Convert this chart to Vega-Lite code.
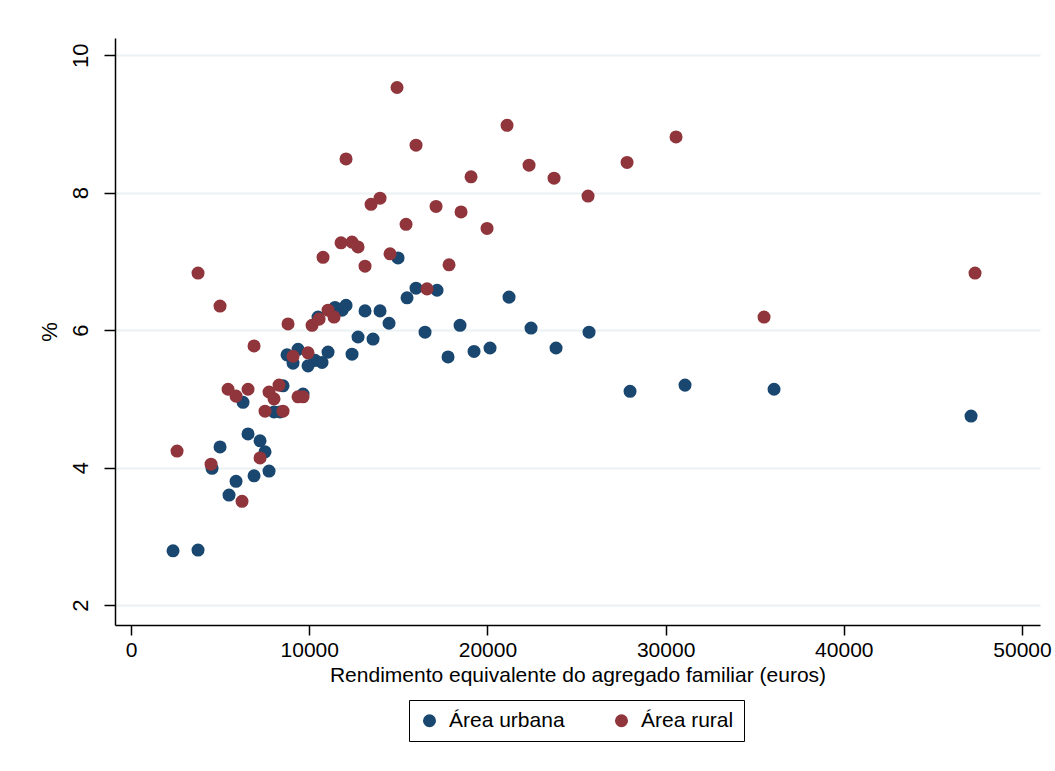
{
  "$schema": "https://vega.github.io/schema/vega-lite/v6.json",
  "width": 925,
  "height": 587,
  "autosize": "none",
  "padding": {"left": 115, "top": 38, "right": 15, "bottom": 146},
  "background": "white",
  "config": {
    "view": {"stroke": null},
    "font": "Liberation Sans"
  },
  "data": {
    "values": [
      {"g": "Área urbana", "x": 2357, "y": 2.79},
      {"g": "Área urbana", "x": 3760, "y": 2.80},
      {"g": "Área urbana", "x": 4546, "y": 3.99},
      {"g": "Área urbana", "x": 4995, "y": 4.30},
      {"g": "Área urbana", "x": 5500, "y": 3.60},
      {"g": "Área urbana", "x": 5893, "y": 3.80},
      {"g": "Área urbana", "x": 6285, "y": 4.95},
      {"g": "Área urbana", "x": 6566, "y": 4.49},
      {"g": "Área urbana", "x": 6903, "y": 3.88},
      {"g": "Área urbana", "x": 7240, "y": 4.39},
      {"g": "Área urbana", "x": 7520, "y": 4.23},
      {"g": "Área urbana", "x": 7745, "y": 3.95},
      {"g": "Área urbana", "x": 8025, "y": 4.81},
      {"g": "Área urbana", "x": 8362, "y": 4.81},
      {"g": "Área urbana", "x": 8530, "y": 5.19},
      {"g": "Área urbana", "x": 8755, "y": 5.64},
      {"g": "Área urbana", "x": 9091, "y": 5.52},
      {"g": "Área urbana", "x": 9372, "y": 5.72},
      {"g": "Área urbana", "x": 9653, "y": 5.07},
      {"g": "Área urbana", "x": 9933, "y": 5.48},
      {"g": "Área urbana", "x": 10326, "y": 5.56},
      {"g": "Área urbana", "x": 10494, "y": 6.19},
      {"g": "Área urbana", "x": 10719, "y": 5.53},
      {"g": "Área urbana", "x": 11056, "y": 5.68},
      {"g": "Área urbana", "x": 11449, "y": 6.33},
      {"g": "Área urbana", "x": 11841, "y": 6.29},
      {"g": "Área urbana", "x": 12066, "y": 6.36},
      {"g": "Área urbana", "x": 12402, "y": 5.65},
      {"g": "Área urbana", "x": 12739, "y": 5.90},
      {"g": "Área urbana", "x": 13132, "y": 6.28},
      {"g": "Área urbana", "x": 13581, "y": 5.87},
      {"g": "Área urbana", "x": 13974, "y": 6.28},
      {"g": "Área urbana", "x": 14479, "y": 6.10},
      {"g": "Área urbana", "x": 14984, "y": 7.05},
      {"g": "Área urbana", "x": 15489, "y": 6.47},
      {"g": "Área urbana", "x": 15994, "y": 6.61},
      {"g": "Área urbana", "x": 16499, "y": 5.97},
      {"g": "Área urbana", "x": 17173, "y": 6.58},
      {"g": "Área urbana", "x": 17790, "y": 5.61},
      {"g": "Área urbana", "x": 18463, "y": 6.07},
      {"g": "Área urbana", "x": 19249, "y": 5.69},
      {"g": "Área urbana", "x": 20147, "y": 5.74},
      {"g": "Área urbana", "x": 21213, "y": 6.48},
      {"g": "Área urbana", "x": 22448, "y": 6.03},
      {"g": "Área urbana", "x": 23851, "y": 5.74},
      {"g": "Área urbana", "x": 25703, "y": 5.97},
      {"g": "Área urbana", "x": 28004, "y": 5.11},
      {"g": "Área urbana", "x": 31090, "y": 5.20},
      {"g": "Área urbana", "x": 36085, "y": 5.14},
      {"g": "Área urbana", "x": 47141, "y": 4.75},
      {"g": "Área rural", "x": 2582, "y": 4.24},
      {"g": "Área rural", "x": 3760, "y": 6.83},
      {"g": "Área rural", "x": 4490, "y": 4.05},
      {"g": "Área rural", "x": 4995, "y": 6.35},
      {"g": "Área rural", "x": 5444, "y": 5.14},
      {"g": "Área rural", "x": 5893, "y": 5.04},
      {"g": "Área rural", "x": 6229, "y": 3.51},
      {"g": "Área rural", "x": 6566, "y": 5.14},
      {"g": "Área rural", "x": 6903, "y": 5.77},
      {"g": "Área rural", "x": 7240, "y": 4.14},
      {"g": "Área rural", "x": 7520, "y": 4.82},
      {"g": "Área rural", "x": 7745, "y": 5.10},
      {"g": "Área rural", "x": 8025, "y": 5.00},
      {"g": "Área rural", "x": 8306, "y": 5.20},
      {"g": "Área rural", "x": 8530, "y": 4.82},
      {"g": "Área rural", "x": 8811, "y": 6.09},
      {"g": "Área rural", "x": 9091, "y": 5.62},
      {"g": "Área rural", "x": 9372, "y": 5.03},
      {"g": "Área rural", "x": 9653, "y": 5.03},
      {"g": "Área rural", "x": 9933, "y": 5.67},
      {"g": "Área rural", "x": 10158, "y": 6.07},
      {"g": "Área rural", "x": 10551, "y": 6.16},
      {"g": "Área rural", "x": 10775, "y": 7.06},
      {"g": "Área rural", "x": 11056, "y": 6.29},
      {"g": "Área rural", "x": 11392, "y": 6.19},
      {"g": "Área rural", "x": 11785, "y": 7.27},
      {"g": "Área rural", "x": 12066, "y": 8.49},
      {"g": "Área rural", "x": 12402, "y": 7.28},
      {"g": "Área rural", "x": 12739, "y": 7.21},
      {"g": "Área rural", "x": 13132, "y": 6.93},
      {"g": "Área rural", "x": 13469, "y": 7.83},
      {"g": "Área rural", "x": 13974, "y": 7.92},
      {"g": "Área rural", "x": 14535, "y": 7.11},
      {"g": "Área rural", "x": 14928, "y": 9.53},
      {"g": "Área rural", "x": 15433, "y": 7.54},
      {"g": "Área rural", "x": 15994, "y": 8.69},
      {"g": "Área rural", "x": 16611, "y": 6.60},
      {"g": "Área rural", "x": 17117, "y": 7.80},
      {"g": "Área rural", "x": 17846, "y": 6.95},
      {"g": "Área rural", "x": 18520, "y": 7.72},
      {"g": "Área rural", "x": 19081, "y": 8.23},
      {"g": "Área rural", "x": 19979, "y": 7.48},
      {"g": "Área rural", "x": 21101, "y": 8.98},
      {"g": "Área rural", "x": 22336, "y": 8.40},
      {"g": "Área rural", "x": 23739, "y": 8.21},
      {"g": "Área rural", "x": 25647, "y": 7.95},
      {"g": "Área rural", "x": 27836, "y": 8.44},
      {"g": "Área rural", "x": 30585, "y": 8.81},
      {"g": "Área rural", "x": 35524, "y": 6.19},
      {"g": "Área rural", "x": 47365, "y": 6.83}
    ]
  },
  "mark": {"type": "circle", "size": 170, "opacity": 1},
  "encoding": {
    "x": {
      "field": "x",
      "type": "quantitative",
      "title": "Rendimento equivalente do agregado familiar (euros)",
      "scale": {"domain": [-900, 51010], "nice": false, "zero": false},
      "axis": {
        "values": [0, 10000, 20000, 30000, 40000, 50000],
        "format": "d",
        "grid": false,
        "domainColor": "black",
        "domainWidth": 1.5,
        "tickColor": "black",
        "tickWidth": 1.5,
        "tickSize": 10,
        "labelFontSize": 21,
        "labelColor": "black",
        "labelPadding": 4,
        "labelFlush": false,
        "titleFontSize": 21,
        "titleFontWeight": "normal",
        "titleColor": "black",
        "titlePadding": 4
      }
    },
    "y": {
      "field": "y",
      "type": "quantitative",
      "title": "%",
      "scale": {"domain": [1.71, 10.25], "nice": false, "zero": false},
      "axis": {
        "values": [2, 4, 6, 8, 10],
        "grid": true,
        "gridColor": "#eaf2f3",
        "gridWidth": 2,
        "domainColor": "black",
        "domainWidth": 1.5,
        "tickColor": "black",
        "tickWidth": 1.5,
        "tickSize": 11,
        "labelAngle": -90,
        "labelAlign": "center",
        "labelBaseline": "bottom",
        "labelFontSize": 22,
        "labelColor": "black",
        "labelPadding": 12,
        "titleFontSize": 22,
        "titleFontWeight": "normal",
        "titleColor": "black",
        "titlePadding": 8
      }
    },
    "color": {
      "field": "g",
      "type": "nominal",
      "scale": {"domain": ["Área urbana", "Área rural"], "range": ["#1a476f", "#90353b"]},
      "legend": {
        "title": null,
        "orient": "none",
        "legendX": 294,
        "legendY": 662,
        "direction": "horizontal",
        "strokeColor": "black",
        "padding": 10,
        "symbolType": "circle",
        "symbolSize": 170,
        "symbolStrokeWidth": 0,
        "symbolOpacity": 1,
        "labelFontSize": 21,
        "labelColor": "black",
        "labelOffset": 9,
        "columnPadding": 46
      }
    }
  }
}
